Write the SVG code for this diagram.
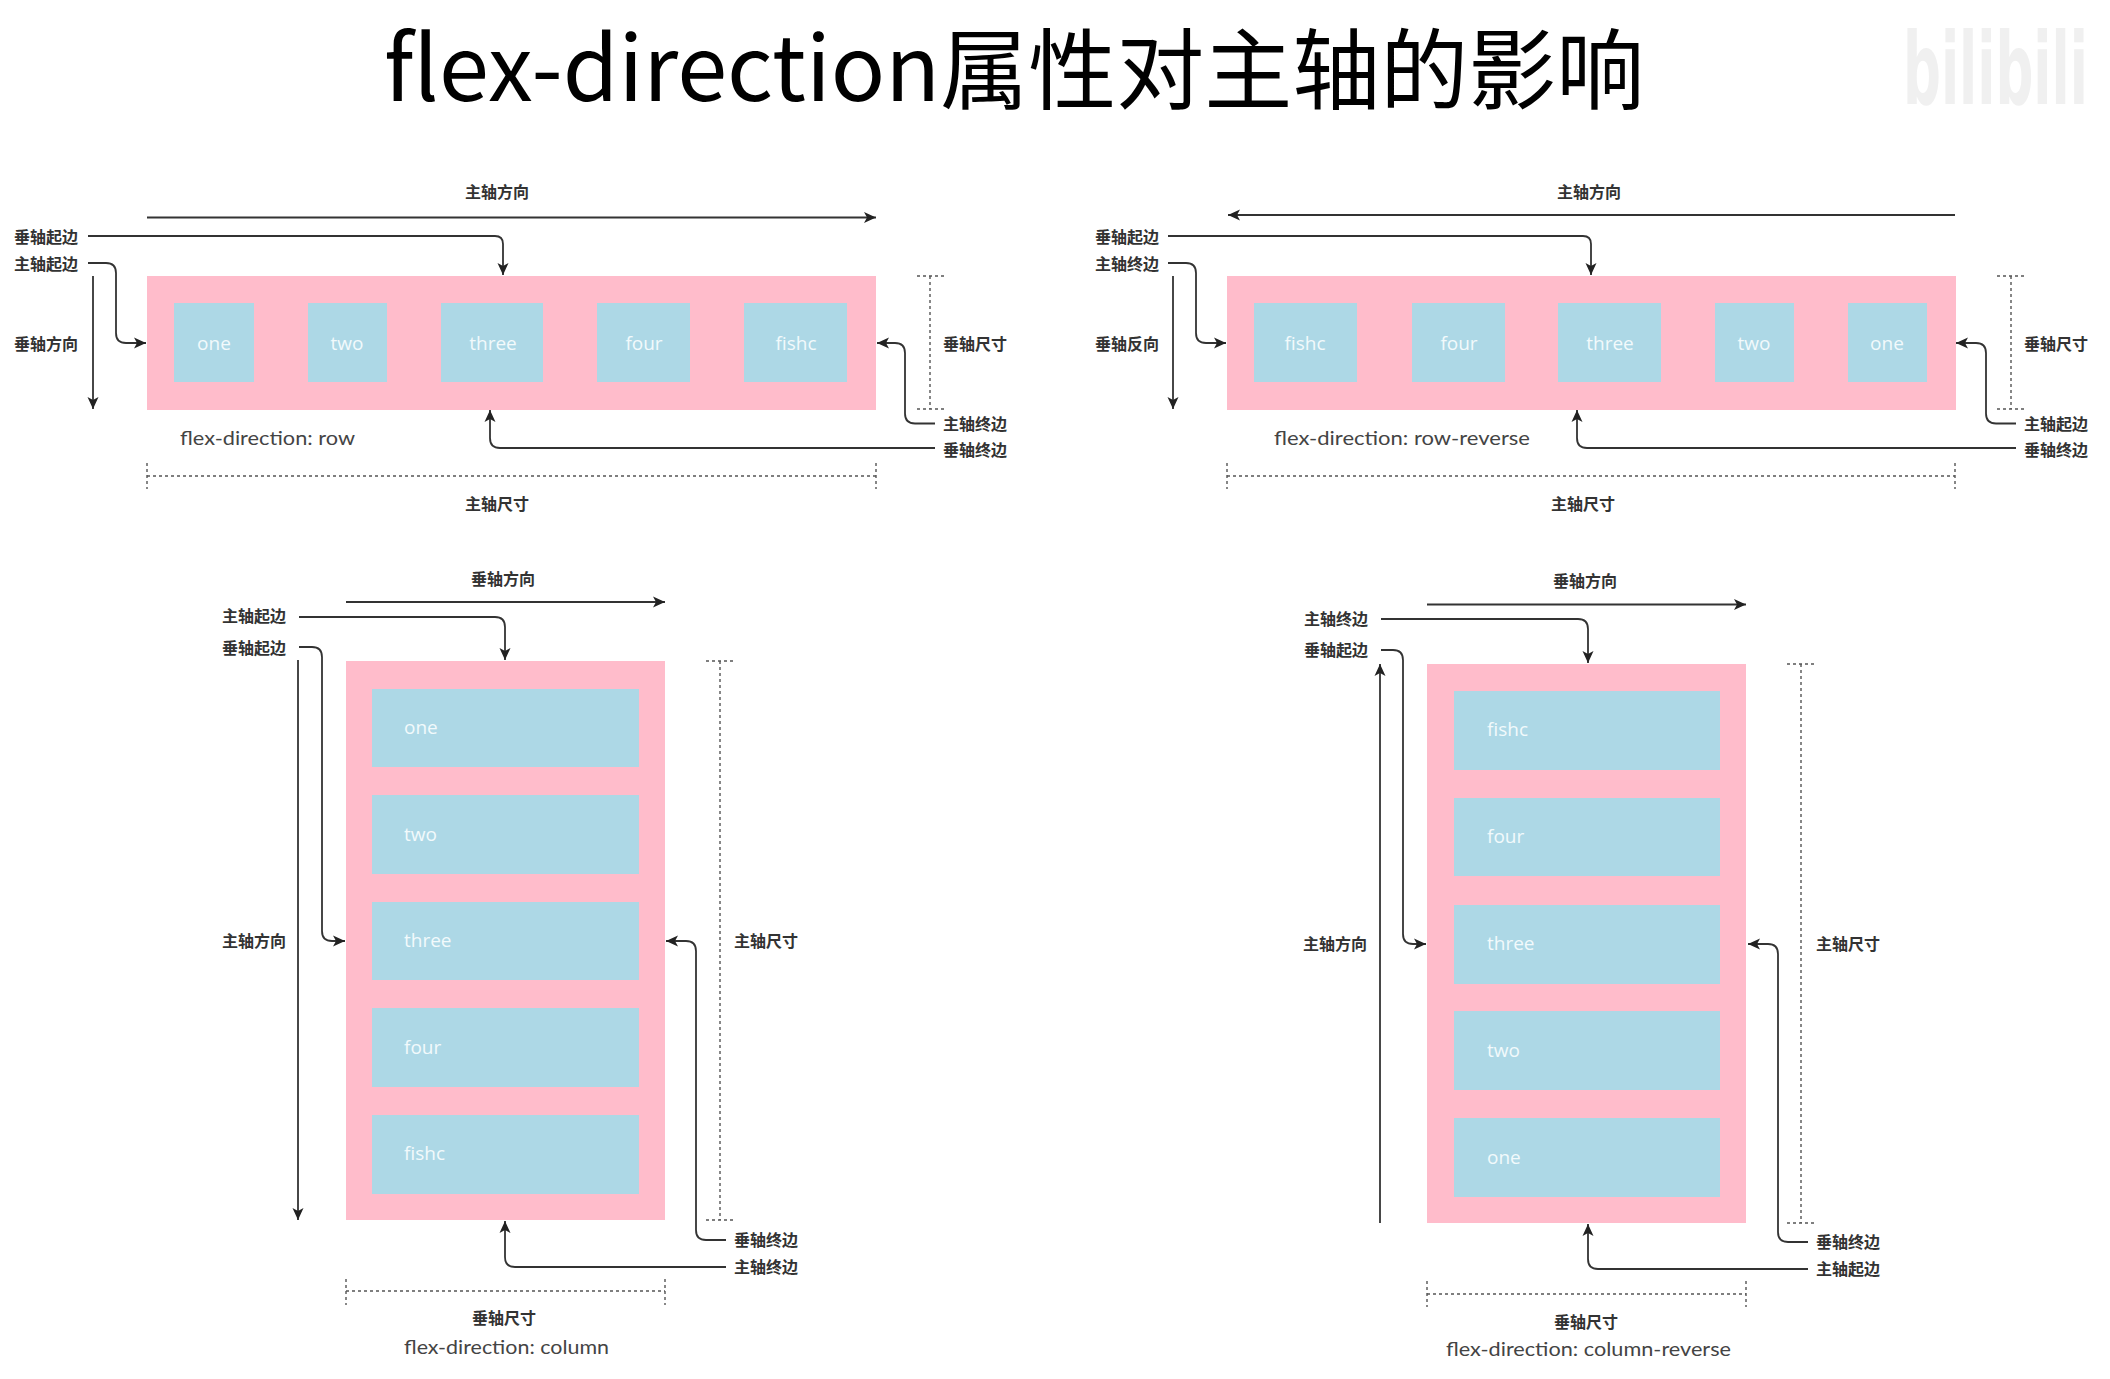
<svg xmlns="http://www.w3.org/2000/svg" width="2110" height="1379" viewBox="0 0 2110 1379">
<style>
text{font-family:"Noto Sans CJK SC","Open Sans",sans-serif}
.title{font-size:88px;fill:#000}
.lab{font-size:16px;font-weight:700;fill:#333;text-anchor:middle;dominant-baseline:central;transform:translateY(-1.5px)}
.box{fill:#ffbccb}
.item{fill:#add8e6}
.it{font-family:"Open Sans",sans-serif;font-size:19px;fill:#f2fafc;dominant-baseline:central;transform:translateY(-1px)}
.c{text-anchor:middle}
.fd{font-family:"Lato","Open Sans",sans-serif;font-size:20px;fill:#444;dominant-baseline:central}
.ln{fill:none;stroke:#333;stroke-width:1.8}
.ar{marker-end:url(#arrow)}
.ds{fill:none;stroke:#555;stroke-width:1.4;stroke-dasharray:3 3}
</style>
<defs>
<marker id="arrow" markerUnits="userSpaceOnUse" markerWidth="14" markerHeight="14" viewBox="0 0 14 14" refX="13" refY="7" orient="auto">
<path d="M1,1.5 L13,7 L1,12.500 L4,7 Z" fill="#222"/>
</marker>
</defs>
<rect width="2110" height="1379" fill="#fff"/>
<text class="title" x="384" y="101"><tspan font-size="90">flex-direction</tspan><tspan dy="1">属性对主轴的影响</tspan></text>
<text transform="translate(1903,104) scale(.53,1)" font-size="100" style="font-family:'DejaVu Sans',sans-serif" font-weight="700" fill="#f0f0f0">bilibili</text>

<g id="row">
<g id="row-container"><rect class="box" x="147" y="276" width="729" height="134"/></g>
<g id="row-one"><rect class="item" x="174" y="303" width="80" height="79"/><text class="it c" x="214" y="344">one</text></g>
<g id="row-two"><rect class="item" x="308" y="303" width="79" height="79"/><text class="it c" x="347" y="344">two</text></g>
<g id="row-three"><rect class="item" x="441" y="303" width="102" height="79"/><text class="it c" x="493" y="344">three</text></g>
<g id="row-four"><rect class="item" x="597" y="303" width="93" height="79"/><text class="it c" x="644" y="344">four</text></g>
<g id="row-fishc"><rect class="item" x="744" y="303" width="103" height="79"/><text class="it c" x="796" y="344">fishc</text></g>
<text class="fd" x="180" y="437" textLength="175" lengthAdjust="spacingAndGlyphs">flex-direction: row</text>
<text class="lab" x="497" y="192">主轴方向</text>
<text class="lab" x="46" y="237">垂轴起边</text>
<text class="lab" x="46" y="264">主轴起边</text>
<text class="lab" x="46" y="344">垂轴方向</text>
<text class="lab" x="975" y="344">垂轴尺寸</text>
<text class="lab" x="975" y="424">主轴终边</text>
<text class="lab" x="975" y="450">垂轴终边</text>
<text class="lab" x="497" y="504">主轴尺寸</text>
</g>

<g id="row-reverse">
<g id="rr-container"><rect class="box" x="1227" y="276" width="729" height="134"/></g>
<g id="rr-fishc"><rect class="item" x="1254" y="303" width="103" height="79"/><text class="it c" x="1305" y="344">fishc</text></g>
<g id="rr-four"><rect class="item" x="1412" y="303" width="93" height="79"/><text class="it c" x="1459" y="344">four</text></g>
<g id="rr-three"><rect class="item" x="1558" y="303" width="103" height="79"/><text class="it c" x="1610" y="344">three</text></g>
<g id="rr-two"><rect class="item" x="1715" y="303" width="79" height="79"/><text class="it c" x="1754" y="344">two</text></g>
<g id="rr-one"><rect class="item" x="1848" y="303" width="79" height="79"/><text class="it c" x="1887" y="344">one</text></g>
<text class="fd" x="1274" y="437" textLength="256" lengthAdjust="spacingAndGlyphs">flex-direction: row-reverse</text>
<text class="lab" x="1589" y="192">主轴方向</text>
<text class="lab" x="1127" y="237">垂轴起边</text>
<text class="lab" x="1127" y="264">主轴终边</text>
<text class="lab" x="1127" y="344">垂轴反向</text>
<text class="lab" x="2056" y="344">垂轴尺寸</text>
<text class="lab" x="2056" y="424">主轴起边</text>
<text class="lab" x="2056" y="450">垂轴终边</text>
<text class="lab" x="1583" y="504">主轴尺寸</text>
</g>

<g id="column">
<g id="col-container"><rect class="box" x="346" y="661" width="319" height="559"/></g>
<g id="col-one"><rect class="item" x="372" y="689" width="267" height="78"/><text class="it" x="404" y="728">one</text></g>
<g id="col-two"><rect class="item" x="372" y="795" width="267" height="79"/><text class="it" x="404" y="835">two</text></g>
<g id="col-three"><rect class="item" x="372" y="902" width="267" height="78"/><text class="it" x="404" y="941">three</text></g>
<g id="col-four"><rect class="item" x="372" y="1008" width="267" height="79"/><text class="it" x="404" y="1048">four</text></g>
<g id="col-fishc"><rect class="item" x="372" y="1115" width="267" height="79"/><text class="it" x="404" y="1154">fishc</text></g>
<text class="fd" x="404" y="1346" textLength="205" lengthAdjust="spacingAndGlyphs">flex-direction: column</text>
<text class="lab" x="503" y="579">垂轴方向</text>
<text class="lab" x="254" y="616">主轴起边</text>
<text class="lab" x="254" y="648">垂轴起边</text>
<text class="lab" x="254" y="941">主轴方向</text>
<text class="lab" x="766" y="941">主轴尺寸</text>
<text class="lab" x="766" y="1240">垂轴终边</text>
<text class="lab" x="766" y="1267">主轴终边</text>
<text class="lab" x="504" y="1318">垂轴尺寸</text>
</g>

<g id="column-reverse">
<g id="cr-container"><rect class="box" x="1427" y="664" width="319" height="559"/></g>
<g id="cr-fishc"><rect class="item" x="1454" y="691" width="266" height="79"/><text class="it" x="1487" y="730">fishc</text></g>
<g id="cr-four"><rect class="item" x="1454" y="798" width="266" height="78"/><text class="it" x="1487" y="837">four</text></g>
<g id="cr-three"><rect class="item" x="1454" y="905" width="266" height="79"/><text class="it" x="1487" y="944">three</text></g>
<g id="cr-two"><rect class="item" x="1454" y="1011" width="266" height="79"/><text class="it" x="1487" y="1051">two</text></g>
<g id="cr-one"><rect class="item" x="1454" y="1118" width="266" height="79"/><text class="it" x="1487" y="1158">one</text></g>
<text class="fd" x="1446" y="1348" textLength="285" lengthAdjust="spacingAndGlyphs">flex-direction: column-reverse</text>
<text class="lab" x="1585" y="581">垂轴方向</text>
<text class="lab" x="1336" y="619">主轴终边</text>
<text class="lab" x="1336" y="650">垂轴起边</text>
<text class="lab" x="1335" y="944">主轴方向</text>
<text class="lab" x="1848" y="944">主轴尺寸</text>
<text class="lab" x="1848" y="1242">垂轴终边</text>
<text class="lab" x="1848" y="1269">主轴起边</text>
<text class="lab" x="1586" y="1322">垂轴尺寸</text>
</g>

<g id="connectors">
<path class="ln ar" d="M147 217.500H876"/>
<path class="ln ar" d="M88 236H495Q503 236 503 244V275"/>
<path class="ln ar" d="M88 263H106Q116 263 116 273V333Q116 343 126 343H146"/>
<path class="ln ar" d="M93 276V409"/>
<path class="ln ar" d="M935 423.500H915Q905 423.500 905 413.500V353Q905 343 895 343H877"/>
<path class="ln ar" d="M935 448H500Q490 448 490 438V410"/>
<path class="ds" d="M930 276V409M917 276H944M917 409H944"/>
<path class="ds" d="M147 476H876M147 463V489M876 463V489"/>
<path class="ln ar" d="M1955 215H1228"/>
<path class="ln ar" d="M1168 236H1583Q1591 236 1591 244V275"/>
<path class="ln ar" d="M1168 263H1186Q1196 263 1196 273V333Q1196 343 1206 343H1226"/>
<path class="ln ar" d="M1173 276V409"/>
<path class="ln ar" d="M2016 423.500H1996Q1986 423.500 1986 413.500V353Q1986 343 1976 343H1956"/>
<path class="ln ar" d="M2016 448H1587Q1577 448 1577 438V410"/>
<path class="ds" d="M2011 276V409M1997 276H2025M1997 409H2025"/>
<path class="ds" d="M1227 476H1955M1227 463V489M1955 463V489"/>
<path class="ln ar" d="M346 602H665"/>
<path class="ln ar" d="M299 617H495Q505 617 505 627V660"/>
<path class="ln ar" d="M299 647H312Q322 647 322 657V931Q322 941 332 941H345"/>
<path class="ln ar" d="M298 660V1220"/>
<path class="ln ar" d="M726 1240H706Q696 1240 696 1230V951Q696 941 686 941H666"/>
<path class="ln ar" d="M726 1267H515Q505 1267 505 1257V1221"/>
<path class="ds" d="M720 661V1220M706 661H733M706 1220H733"/>
<path class="ds" d="M346 1291H665M346 1279V1305M665 1279V1305"/>
<path class="ln ar" d="M1427 604.500H1746"/>
<path class="ln ar" d="M1381 619H1578Q1588 619 1588 629V663"/>
<path class="ln ar" d="M1381 650H1393Q1403 650 1403 660V934Q1403 944 1413 944H1426"/>
<path class="ln ar" d="M1380 1223V664"/>
<path class="ln ar" d="M1808 1242H1788Q1778 1242 1778 1232V954Q1778 944 1768 944H1748"/>
<path class="ln ar" d="M1808 1269H1598Q1588 1269 1588 1259V1224"/>
<path class="ds" d="M1801 664V1223M1787 664H1815M1787 1223H1815"/>
<path class="ds" d="M1427 1294H1746M1427 1281V1307M1746 1281V1307"/>
</g>
</svg>
